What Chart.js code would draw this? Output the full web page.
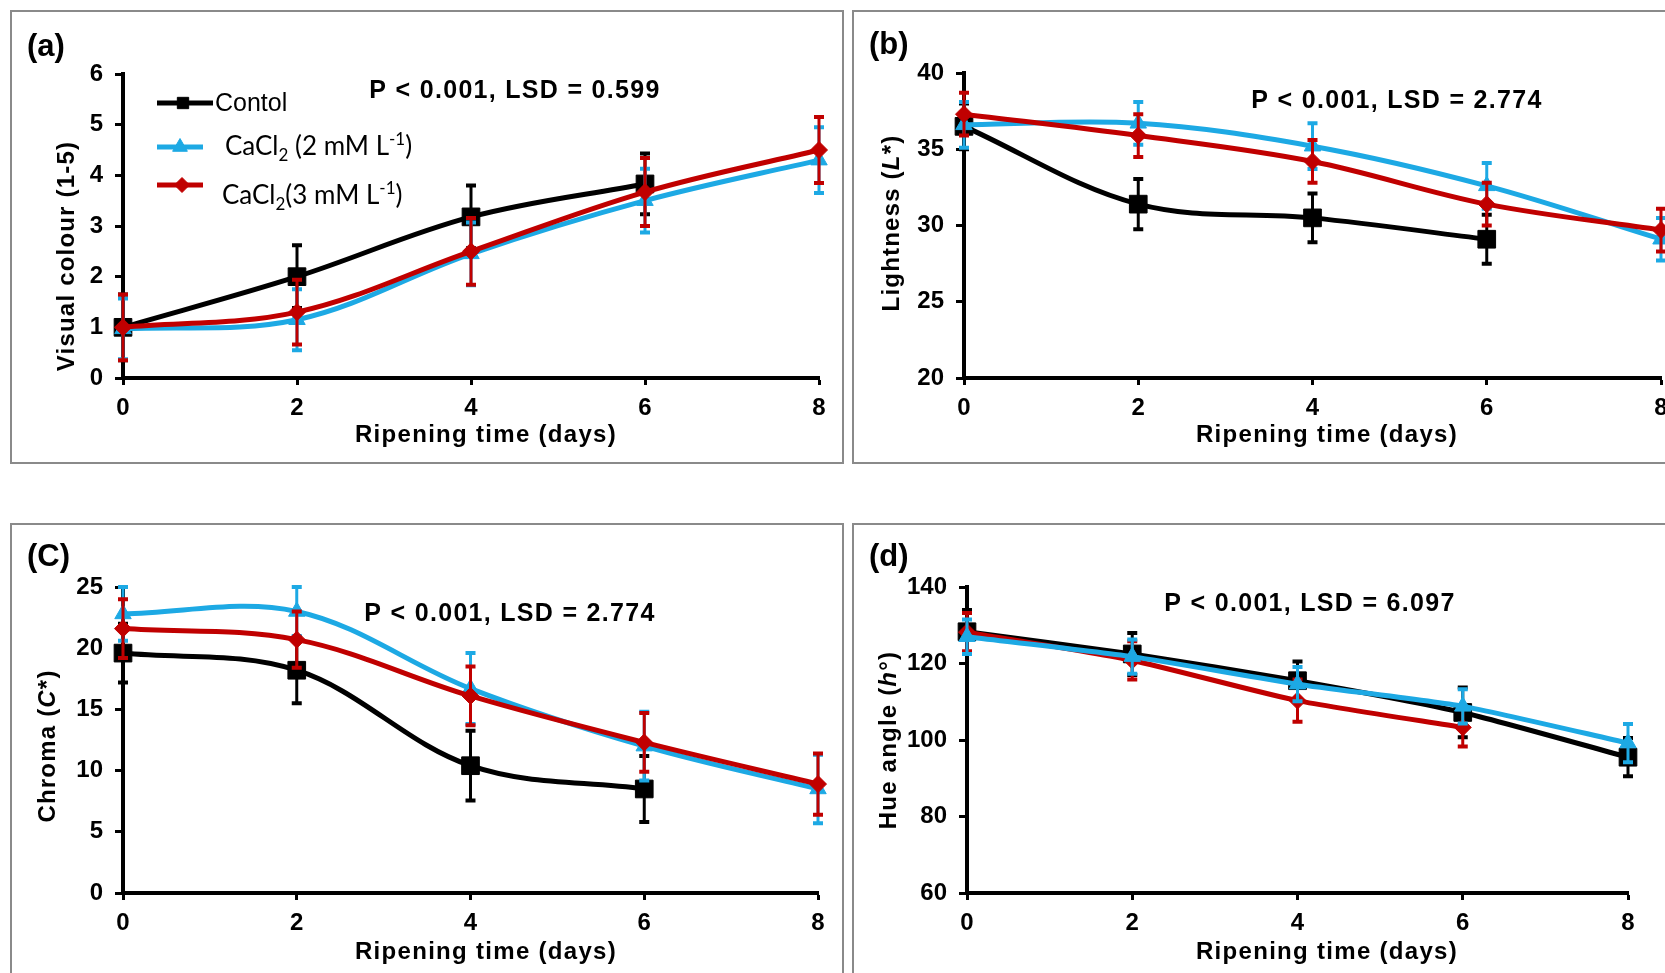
<!DOCTYPE html>
<html>
<head>
<meta charset="utf-8">
<script src="https://cdn.jsdelivr.net/npm/chart.js@4.4.1/dist/chart.umd.min.js"></script>
<style>
  html, body { margin: 0; padding: 0; background: #fff; overflow: hidden; width: 1665px; height: 973px; }
  .panel { position: absolute; border: 2px solid #8a8a8a; box-sizing: border-box; width: 834px; background: #fff; }
  .panel canvas { display: block; }
</style>
</head>
<body>
<div class="panel" style="left:10px;top:10px;height:454px"><canvas id="chartA" width="830" height="450"></canvas></div>
<div class="panel" style="left:852px;top:10px;height:454px"><canvas id="chartB" width="830" height="450"></canvas></div>
<div class="panel" style="left:10px;top:523px;height:460px"><canvas id="chartC" width="830" height="456"></canvas></div>
<div class="panel" style="left:852px;top:523px;height:460px"><canvas id="chartD" width="830" height="456"></canvas></div>
<script>
// ripening time (days) on the x axis
const days = [0, 2, 4, 6, 8];
const xTicks = [0, 2, 4, 6, 8];
const seriesNames = ['Contol', 'CaCl2 (2 mM L-1)', 'CaCl2 (3 mM L-1)'];

// (a) visual colour (1-5)
const colourControl = [1.0, 2.0, 3.18, 3.83, null];
const colourCa2 = [0.97, 1.15, 2.45, 3.5, 4.3];
const colourCa3 = [1.0, 1.3, 2.5, 3.67, 4.5];
const colourControlErr = [0.65, 0.62, 0.62, 0.6, null];
const colourCa2Err = [0.6, 0.6, 0.62, 0.63, 0.65];
const colourCa3Err = [0.65, 0.64, 0.66, 0.67, 0.65];
const colourTicks = [0, 1, 2, 3, 4, 5, 6];

// (b) lightness L*
const lightControl = [36.5, 31.4, 30.5, 29.1, null];
const lightCa2 = [36.6, 36.7, 35.2, 32.6, 29.1];
const lightCa3 = [37.3, 35.9, 34.2, 31.4, 29.7];
const lightControlErr = [1.5, 1.65, 1.6, 1.6, null];
const lightCa2Err = [1.5, 1.4, 1.5, 1.5, 1.4];
const lightCa3Err = [1.4, 1.4, 1.4, 1.4, 1.4];
const lightTicks = [20, 25, 30, 35, 40];

// (c) chroma C*
const chromaControl = [19.6, 18.2, 10.4, 8.5, null];
const chromaCa2 = [22.8, 23.0, 16.7, 12.0, 8.5];
const chromaCa3 = [21.6, 20.7, 16.1, 12.3, 8.9];
const chromaControlErr = [2.4, 2.7, 2.85, 2.7, null];
const chromaCa2Err = [2.2, 2.0, 2.9, 2.8, 2.8];
const chromaCa3Err = [2.4, 2.3, 2.4, 2.4, 2.5];
const chromaTicks = [0, 5, 10, 15, 20, 25];

// (d) hue angle h°
const hueControl = [128.3, 122.5, 115.5, 107.2, 95.5];
const hueCa2 = [127, 121.8, 114.6, 108.8, 99.2];
const hueCa3 = [128.2, 120.8, 110.3, 103.3, null];
const hueControlErr = [5.7, 5.5, 5.0, 6.5, 5.0];
const hueCa2Err = [4.5, 4.5, 4.5, 4.5, 5.0];
const hueCa3Err = [5.0, 5.0, 5.5, 5.0, null];
const hueTicks = [60, 80, 100, 120, 140];

const notes = ['P < 0.001, LSD = 0.599', 'P < 0.001, LSD = 2.774', 'P < 0.001, LSD = 2.774', 'P < 0.001, LSD = 6.097'];

const FONT = "'Liberation Sans', Arial, sans-serif";
const styles = [
    { color: '#000000', point: 'rect', radius: 12.5 },
    { color: '#1da9e4', point: 'triangle', radius: 9.5 },
    { color: '#c00000', point: 'rectRot', radius: 8.5 }
];
const legendParts = [
    [{ t: 'Contol' }],
    [{ t: 'CaCl' }, { t: '2', sub: true }, { t: ' (2 mM L' }, { t: '-1', sup: true }, { t: ')' }],
    [{ t: 'CaCl' }, { t: '2', sub: true }, { t: '(3 mM L' }, { t: '-1', sup: true }, { t: ')' }]
];
const xTitle = [{ t: 'Ripening time (days)' }];

// draws a line of text made of parts (italic, sub, sup)
function drawRich(ctx, parts, x, y, o) {
    const size = o.size, family = o.family || FONT, weight = o.weight || 'normal';
    ctx.letterSpacing = (o.spacing || 0) + 'px';
    const segs = parts.map(p => {
        const s = (p.sub || p.sup) ? Math.round(size * 0.65) : size;
        const font = (p.it ? 'italic ' : '') + weight + ' ' + s + 'px ' + family;
        ctx.font = font;
        return { p, font, w: ctx.measureText(p.t).width };
    });
    const total = segs.reduce((a, s) => a + s.w, 0);
    let cx = o.align === 'left' ? x : x - total / 2;
    ctx.textAlign = 'left';
    ctx.textBaseline = 'middle';
    segs.forEach(s => {
        ctx.font = s.font;
        const dy = s.p.sub ? size * 0.32 : s.p.sup ? -size * 0.3 : 0;
        ctx.fillText(s.p.t, cx, y + dy);
        cx += s.w;
    });
    ctx.letterSpacing = '0px';
}

const errorBars = {
    id: 'errorBars',
    beforeDatasetDraw(chart, args) {
        const ds = chart.data.datasets[args.index];
        if (!ds.errors) return;
        const { ctx, scales: { x, y } } = chart;
        ctx.save();
        ctx.strokeStyle = ds.borderColor;
        ds.data.forEach((p, i) => {
            const e = ds.errors[i];
            if (p.y == null || e == null) return;
            const px = x.getPixelForValue(p.x);
            const top = y.getPixelForValue(p.y + e);
            const bot = y.getPixelForValue(p.y - e);
            ctx.lineWidth = 3;
            ctx.beginPath();
            ctx.moveTo(px, top); ctx.lineTo(px, bot);
            ctx.stroke();
            ctx.lineWidth = 4;
            ctx.beginPath();
            ctx.moveTo(px - 5, top); ctx.lineTo(px + 5, top);
            ctx.moveTo(px - 5, bot); ctx.lineTo(px + 5, bot);
            ctx.stroke();
        });
        ctx.restore();
    }
};

const panelText = {
    id: 'panelText',
    afterDraw(chart, args, o) {
        const ctx = chart.ctx;
        ctx.save();
        ctx.fillStyle = '#000';
        drawRich(ctx, [{ t: o.label }], o.labelPos[0], o.labelPos[1], { size: 31, weight: 'bold', align: 'left' });
        drawRich(ctx, [{ t: o.note }], o.notePos[0], o.notePos[1], { size: 25, weight: 'bold', spacing: 1.3 });
        drawRich(ctx, xTitle, o.xTitlePos[0], o.xTitlePos[1], { size: 24, weight: 'bold', spacing: 1.3 });
        ctx.save();
        ctx.translate(o.yTitlePos[0], o.yTitlePos[1]);
        ctx.rotate(-Math.PI / 2);
        drawRich(ctx, o.yTitle, 0, 0, { size: 24, weight: 'bold', spacing: 1.2 });
        ctx.restore();
        if (o.legend) {
            o.legend.forEach((lg, i) => {
                const st = styles[i];
                ctx.strokeStyle = st.color;
                ctx.fillStyle = st.color;
                ctx.lineWidth = 5;
                ctx.beginPath();
                ctx.moveTo(lg.line[0], lg.y);
                ctx.lineTo(lg.line[1], lg.y);
                ctx.stroke();
                ctx.lineWidth = 1;
                Chart.helpers.drawPoint(ctx, { pointStyle: st.point, radius: lg.r, borderWidth: 1, rotation: 0 }, lg.mx, lg.y);
                ctx.fillStyle = '#000';
                drawRich(ctx, legendParts[i], lg.tx, lg.ty, { size: lg.size, family: lg.family, align: 'left' });
            });
        }
        ctx.restore();
    }
};

function makeChart(id, p) {
    const canvas = document.getElementById(id);
    const W = canvas.width, H = canvas.height;
    const datasets = p.series.map((vals, i) => ({
        label: seriesNames[i],
        data: days.map((d, k) => ({ x: d, y: vals[k] })),
        errors: p.errors[i],
        borderColor: styles[i].color,
        backgroundColor: styles[i].color,
        pointBackgroundColor: styles[i].color,
        pointBorderColor: styles[i].color,
        pointStyle: styles[i].point,
        pointRadius: styles[i].radius,
        pointBorderWidth: 1,
        borderWidth: 5,
        tension: p.tension,
        order: p.order[i],
        clip: false
    }));
    const tickFont = { family: FONT, size: 24, weight: 'bold' };
    return new Chart(canvas, {
        type: 'line',
        data: { datasets },
        plugins: [errorBars, panelText],
        options: {
            responsive: false,
            animation: false,
            devicePixelRatio: 1,
            layout: { padding: { left: 0, top: p.area.top, right: W - p.area.right, bottom: 0 } },
            plugins: {
                legend: { display: false },
                tooltip: { enabled: false },
                panelText: p.text
            },
            scales: {
                x: {
                    type: 'linear', min: 0, max: 8,
                    afterBuildTicks: s => { s.ticks = xTicks.map(v => ({ value: v })); },
                    afterFit: s => { s.height = H - p.area.bottom; },
                    ticks: { color: '#000', font: tickFont, padding: 9, maxRotation: 0 },
                    grid: { drawOnChartArea: false, drawTicks: true, tickLength: 7, tickColor: '#000', tickWidth: 3 },
                    border: { display: true, color: '#000', width: 4 }
                },
                y: {
                    type: 'linear', min: p.yTicks[0], max: p.yTicks[p.yTicks.length - 1],
                    afterBuildTicks: s => { s.ticks = p.yTicks.map(v => ({ value: v })); },
                    afterFit: s => { s.width = p.area.left; },
                    ticks: { color: '#000', font: tickFont, padding: 12 },
                    grid: { drawOnChartArea: false, drawTicks: true, tickLength: 8, tickColor: '#000', tickWidth: 3 },
                    border: { display: true, color: '#000', width: 4 }
                }
            }
        }
    });
}

makeChart('chartA', {
    series: [colourControl, colourCa2, colourCa3],
    errors: [colourControlErr, colourCa2Err, colourCa3Err],
    yTicks: colourTicks, tension: 0.35, order: [2, 1, 0],
    area: { left: 111, right: 807, top: 62, bottom: 366 },
    text: {
        label: '(a)', labelPos: [15, 35],
        note: notes[0], notePos: [503, 79],
        xTitlePos: [474, 423],
        yTitle: [{ t: 'Visual colour (1-5)' }], yTitlePos: [55, 244],
        legend: [
            { line: [145, 201], y: 91, mx: 171, r: 8, tx: 203, ty: 92, size: 25, family: FONT },
            { line: [145, 191], y: 135, mx: 168, r: 8.5, tx: 213, ty: 135, size: 26, family: 'Lato, Carlito, sans-serif' },
            { line: [145, 191], y: 173, mx: 170, r: 7.5, tx: 210, ty: 184, size: 26, family: 'Lato, Carlito, sans-serif' }
        ]
    }
});

makeChart('chartB', {
    series: [lightControl, lightCa2, lightCa3],
    errors: [lightControlErr, lightCa2Err, lightCa3Err],
    yTicks: lightTicks, tension: 0.35, order: [2, 1, 0],
    area: { left: 110, right: 807, top: 61, bottom: 366 },
    text: {
        label: '(b)', labelPos: [15, 33],
        note: notes[1], notePos: [543, 89],
        xTitlePos: [473, 423],
        yTitle: [{ t: 'Lightness (' }, { t: 'L', it: true }, { t: '*)' }], yTitlePos: [38, 211]
    }
});

makeChart('chartC', {
    series: [chromaControl, chromaCa2, chromaCa3],
    errors: [chromaControlErr, chromaCa2Err, chromaCa3Err],
    yTicks: chromaTicks, tension: 0.35, order: [2, 1, 0],
    area: { left: 111, right: 806, top: 62, bottom: 368 },
    text: {
        label: '(C)', labelPos: [15, 32],
        note: notes[2], notePos: [498, 89],
        xTitlePos: [474, 427],
        yTitle: [{ t: 'Chroma (' }, { t: 'C', it: true }, { t: '*)' }], yTitlePos: [36, 221]
    }
});

makeChart('chartD', {
    series: [hueControl, hueCa2, hueCa3],
    errors: [hueControlErr, hueCa2Err, hueCa3Err],
    yTicks: hueTicks, tension: 0.2, order: [2, 0, 1],
    area: { left: 113, right: 774, top: 62, bottom: 368 },
    text: {
        label: '(d)', labelPos: [15, 32],
        note: notes[3], notePos: [456, 79],
        xTitlePos: [473, 427],
        yTitle: [{ t: 'Hue angle (' }, { t: 'h', it: true }, { t: '°)' }], yTitlePos: [35, 215]
    }
});
</script>
</body>
</html>
